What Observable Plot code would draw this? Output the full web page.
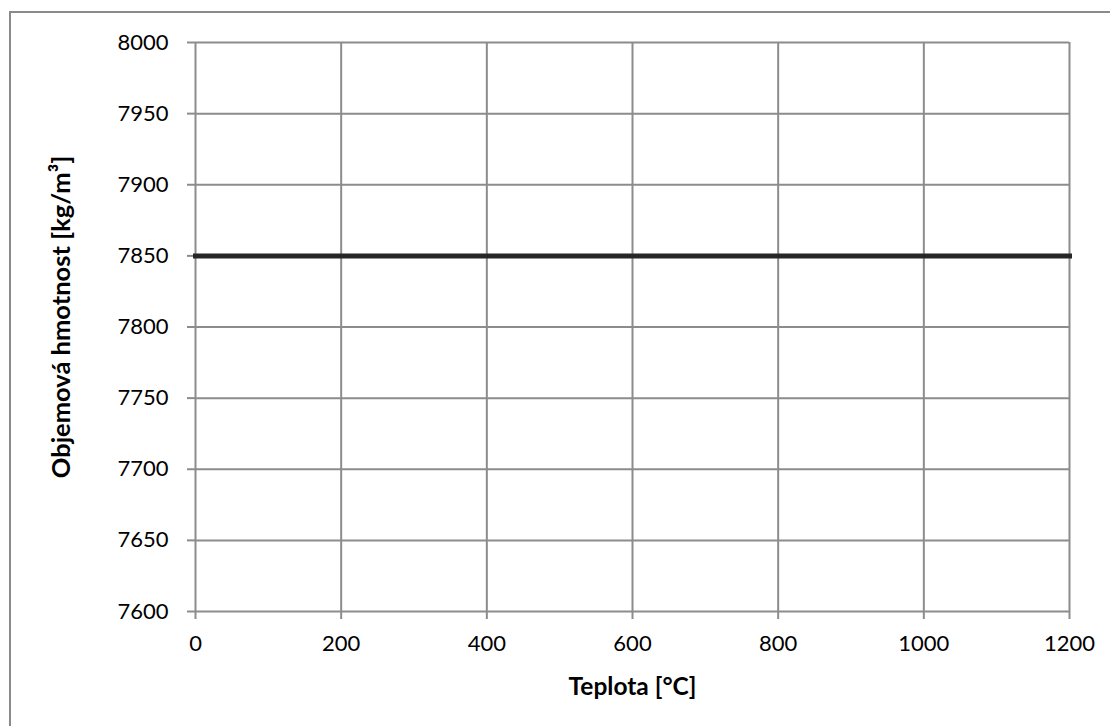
<!DOCTYPE html>
<html>
<head>
<meta charset="utf-8">
<script src="https://cdn.jsdelivr.net/npm/d3@7"></script>
<script src="https://cdn.jsdelivr.net/npm/@observablehq/plot@0.6"></script>
<style>
  html, body { margin: 0; padding: 0; background: #fff; overflow: hidden; }
  #wrap { position: relative; width: 1110px; height: 726px; }
  #frame {
    position: absolute; left: 9px; top: 11px; width: 1200px; height: 800px;
    border-left: 2px solid #8a8a8a; border-top: 2px solid #8a8a8a; box-sizing: border-box;
  }
  #chart { position: absolute; left: 0; top: 0; }
</style>
</head>
<body>
<div id="wrap"><div id="frame"></div><div id="chart"></div></div>
<script>
// Density of steel versus temperature
const temperature = [0, 200, 400, 600, 800, 1000, 1200];
const density = [7850, 7850, 7850, 7850, 7850, 7850, 7850];

const xTicks = [0, 200, 400, 600, 800, 1000, 1200];
const yTicks = [7600, 7650, 7700, 7750, 7800, 7850, 7900, 7950, 8000];

const xTitle = "Teplota [°C]";
const yTitle = "Objemová hmotnost [kg/m³]";

const rows = temperature.map((t, i) => ({t, rho: density[i]}));

const gridColor = "#8c8c8c";
const font = "Lato, 'Open Sans', sans-serif";

const chart = Plot.plot({
  width: 1110,
  height: 726,
  marginLeft: 195,
  marginRight: 41,
  marginTop: 42,
  marginBottom: 115,
  style: {fontFamily: font, fontSize: "22px", color: "#000", background: "transparent"},
  x: {domain: [0, 1200]},
  y: {domain: [7600, 8000]},
  marks: [
    Plot.gridX(xTicks, {stroke: gridColor, strokeOpacity: 1, strokeWidth: 2}),
    Plot.gridY(yTicks, {stroke: gridColor, strokeOpacity: 1, strokeWidth: 2}),
    Plot.axisX(xTicks, {
      tickSize: 8, tickPadding: 16, stroke: gridColor, strokeWidth: 2,
      tickFormat: d => String(d), label: null, fill: "#000"
    }),
    Plot.axisY(yTicks, {
      tickSize: 8, tickPadding: 19, stroke: gridColor, strokeWidth: 2,
      tickFormat: d => String(d), label: null, fill: "#000"
    }),
    Plot.lineY(rows, {x: "t", y: "rho", stroke: "#262626", strokeWidth: 5, strokeLinecap: "square"}),
    Plot.text([xTitle], {
      frameAnchor: "bottom", textAnchor: "middle", lineAnchor: "top", dy: 66,
      fontWeight: "bold", fontSize: 24.5, fill: "#000"
    }),
    Plot.text([yTitle], {
      frameAnchor: "left", textAnchor: "middle", lineAnchor: "middle", rotate: -90, dx: -134, dy: -10,
      fontWeight: "bold", fontSize: 25.5, fill: "#000"
    })
  ]
});

document.getElementById("chart").appendChild(chart);
</script>
</body>
</html>
